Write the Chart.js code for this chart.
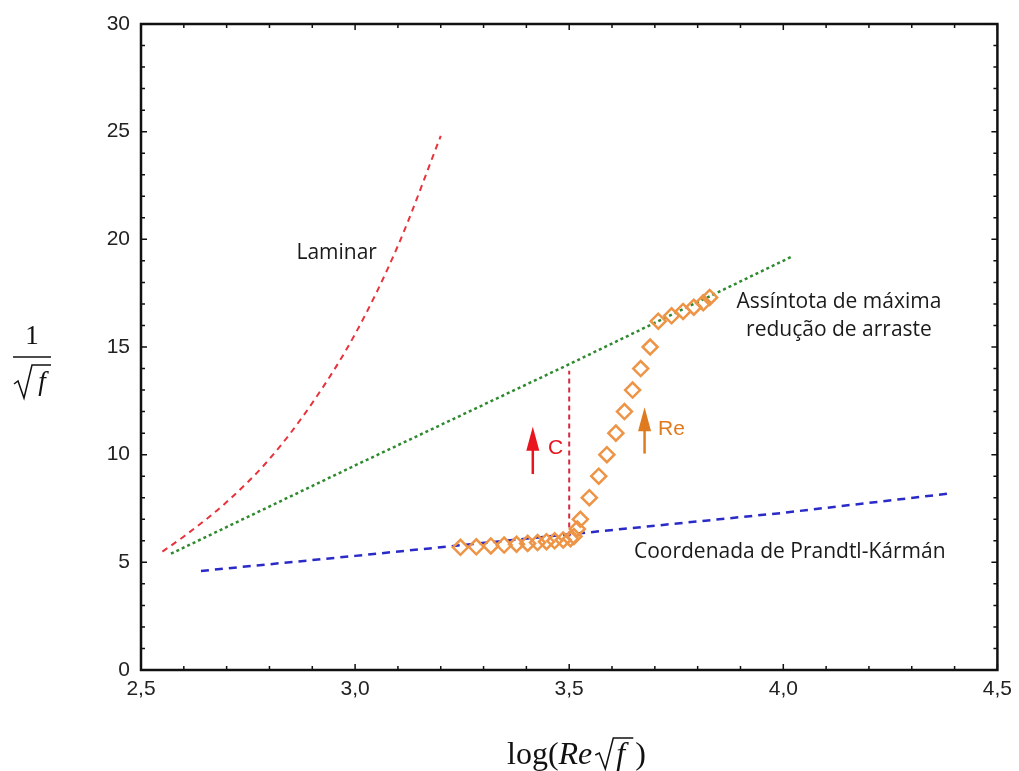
<!DOCTYPE html>
<html>
<head>
<meta charset="utf-8">
<script src="https://cdn.jsdelivr.net/npm/chart.js@4"></script>
<style>
  body { margin: 0; background: #fff; }
  #grafico { display: block; }
</style>
</head>
<body>
<canvas id="grafico" width="1019" height="771"></canvas>
<script>
// Curva laminar
const xLaminar = [2.55, 2.6, 2.7, 2.8, 2.9, 3.0, 3.1, 3.2];
const yLaminar = [5.5, 6.2, 7.8, 9.8, 12.4, 15.6, 19.7, 24.8];

// Assíntota de máxima redução de arraste
const xAssintota = [2.57, 3.0, 3.5, 4.02];
const yAssintota = [5.4, 9.5, 14.2, 19.2];

// Coordenada de Prandtl-Kármán
const xPrandtl = [2.64, 3.0, 3.5, 4.0, 4.39];
const yPrandtl = [4.6, 5.3, 6.3, 7.3, 8.2];

// Linha vertical tracejada (efeito da concentração C)
const xLinhaC = [3.5, 3.5];
const yLinhaC = [6.2, 13.9];

// Pontos experimentais (losangos)
const xDados = [3.246, 3.283, 3.317, 3.348, 3.377, 3.403, 3.426, 3.447, 3.466, 3.486, 3.503, 3.511,
                3.519, 3.526, 3.547, 3.569, 3.588, 3.609, 3.629, 3.648, 3.667, 3.689,
                3.708, 3.739, 3.766, 3.791, 3.813, 3.828];
const yDados = [5.7, 5.72, 5.76, 5.8, 5.84, 5.88, 5.92, 5.96, 6.0, 6.04, 6.1, 6.2,
                6.55, 7.0, 8.0, 9.0, 10.0, 11.0, 12.0, 13.0, 14.0, 15.0,
                16.2, 16.45, 16.65, 16.85, 17.05, 17.3];

// Eixos
const xMin = 2.5, xMax = 4.5, xPasso = 0.5;
const yMin = 0, yMax = 30, yPasso = 5;

// Anotações (setas e textos) em coordenadas de dados
const setas = [
    { x: 3.415, y0: 9.1, y1: 11.3, cor: '#e8141e', texto: 'C', tx: 3.468, ty: 10.3 },
    { x: 3.676, y0: 10.05, y1: 12.2, cor: '#e07a1e', texto: 'Re', tx: 3.739, ty: 11.2 }
];
const rotulos = [
    { linhas: ['Laminar'], x: 2.957, y: 19.37 },
    { linhas: ['Assíntota de máxima', 'redução de arraste'], x: 4.13, y: 17.09 },
    { linhas: ['Coordenada de Prandtl-Kármán'], x: 4.015, y: 5.48 }
];

function pares(xs, ys) {
    return xs.map((x, i) => ({ x: x, y: ys[i] }));
}

const pluginDesenho = {
    id: 'desenho',
    afterDatasetsDraw(chart) {
        const ctx = chart.ctx;
        const a = chart.chartArea;
        const sx = chart.scales.x, sy = chart.scales.y;
        ctx.save();

        // moldura
        ctx.strokeStyle = '#111';
        ctx.lineWidth = 2.5;
        ctx.strokeRect(a.left, a.top, a.right - a.left, a.bottom - a.top);

        // marcas internas
        ctx.lineWidth = 1.5;
        for (let i = 0; i <= Math.round((xMax - xMin) * 10); i++) {
            const v = xMin + i / 10;
            const px = sx.getPixelForValue(v);
            const L = (i % 5 === 0) ? 6 : 4;
            ctx.beginPath();
            ctx.moveTo(px, a.bottom); ctx.lineTo(px, a.bottom - L);
            ctx.moveTo(px, a.top); ctx.lineTo(px, a.top + L);
            ctx.stroke();
        }
        for (let v = yMin; v <= yMax; v++) {
            const py = sy.getPixelForValue(v);
            const L = (v % 5 === 0) ? 6 : 4;
            ctx.beginPath();
            ctx.moveTo(a.left, py); ctx.lineTo(a.left + L, py);
            ctx.moveTo(a.right, py); ctx.lineTo(a.right - L, py);
            ctx.stroke();
        }

        // setas
        setas.forEach(s => {
            const px = sx.getPixelForValue(s.x);
            const pb = sy.getPixelForValue(s.y0);
            const pt = sy.getPixelForValue(s.y1);
            ctx.strokeStyle = s.cor;
            ctx.fillStyle = s.cor;
            ctx.lineWidth = 2.5;
            ctx.beginPath();
            ctx.moveTo(px, pb); ctx.lineTo(px, pt + 20);
            ctx.stroke();
            ctx.beginPath();
            ctx.moveTo(px, pt);
            ctx.lineTo(px - 6.5, pt + 24);
            ctx.lineTo(px + 6.5, pt + 24);
            ctx.closePath();
            ctx.fill();
            ctx.font = '21px "Liberation Sans", Arial, sans-serif';
            ctx.textAlign = 'center';
            ctx.textBaseline = 'middle';
            ctx.fillText(s.texto, sx.getPixelForValue(s.tx), sy.getPixelForValue(s.ty));
        });

        // rótulos das curvas
        ctx.fillStyle = '#1a1a1a';
        ctx.font = '21px "Open Sans", "Noto Sans", sans-serif';
        ctx.textAlign = 'center';
        ctx.textBaseline = 'middle';
        rotulos.forEach(r => {
            const px = sx.getPixelForValue(r.x);
            const py = sy.getPixelForValue(r.y);
            r.linhas.forEach((t, k) => ctx.fillText(t, px, py + k * 28));
        });

        // título do eixo y: 1/sqrt(f)
        ctx.fillStyle = '#111';
        ctx.font = '27px "Liberation Serif", "DejaVu Serif", serif';
        ctx.fillText('1', 32, 337);
        ctx.lineWidth = 1.5;
        ctx.strokeStyle = '#111';
        ctx.beginPath(); ctx.moveTo(13, 357); ctx.lineTo(51, 357); ctx.stroke();
        ctx.beginPath();
        ctx.moveTo(14, 384); ctx.lineTo(18, 381); ctx.lineTo(24, 398); ctx.lineTo(32, 365); ctx.lineTo(51, 365);
        ctx.stroke();
        ctx.font = 'italic 27px "Liberation Serif", "DejaVu Serif", serif';
        ctx.fillText('f', 42, 383);

        // título do eixo x: log(Re sqrt(f))
        ctx.textAlign = 'left';
        ctx.textBaseline = 'alphabetic';
        let x0 = 507;
        const base = 764;
        ctx.font = '32px "Liberation Serif", "DejaVu Serif", serif';
        ctx.fillText('log(', x0, base);
        x0 += ctx.measureText('log(').width;
        ctx.font = 'italic 32px "Liberation Serif", "DejaVu Serif", serif';
        ctx.fillText('Re', x0, base);
        x0 += ctx.measureText('Re').width + 3;
        ctx.beginPath();
        ctx.moveTo(x0, base - 9); ctx.lineTo(x0 + 4, base - 11); ctx.lineTo(x0 + 10, base + 5);
        ctx.lineTo(x0 + 18, base - 26); ctx.lineTo(x0 + 38, base - 26);
        ctx.stroke();
        ctx.fillText('f', x0 + 21, base);
        x0 += 40;
        ctx.font = '32px "Liberation Serif", "DejaVu Serif", serif';
        ctx.fillText(')', x0, base);

        ctx.restore();
    }
};

const ctx = document.getElementById('grafico').getContext('2d');
const grafico = new Chart(ctx, {
    type: 'scatter',
    data: {
        datasets: [
            {
                label: 'Dados',
                data: pares(xDados, yDados),
                showLine: false,
                pointStyle: 'rectRot',
                pointRadius: 7.5,
                pointBorderWidth: 2.5,
                pointBackgroundColor: 'rgba(255,255,255,0)',
                pointBorderColor: '#ee9446'
            },
            {
                label: 'C',
                data: pares(xLinhaC, yLinhaC),
                showLine: true,
                borderColor: '#d8283e',
                borderWidth: 2,
                borderDash: [5, 4],
                pointRadius: 0
            },
            {
                label: 'Laminar',
                data: pares(xLaminar, yLaminar),
                showLine: true,
                cubicInterpolationMode: 'monotone',
                borderColor: '#e8323c',
                borderWidth: 2,
                borderDash: [6, 5],
                pointRadius: 0
            },
            {
                label: 'Assíntota',
                data: pares(xAssintota, yAssintota),
                showLine: true,
                borderColor: '#2f8a2f',
                borderWidth: 2.5,
                borderDash: [3, 3],
                pointRadius: 0
            },
            {
                label: 'Prandtl-Kármán',
                data: pares(xPrandtl, yPrandtl),
                showLine: true,
                borderColor: '#2a2ac8',
                borderWidth: 2.5,
                borderDash: [8, 6],
                pointRadius: 0
            }
        ]
    },
    options: {
        responsive: false,
        animation: false,
        devicePixelRatio: 1,
        layout: { padding: { top: 24, right: 16, left: 0, bottom: 0 } },
        plugins: {
            legend: { display: false },
            tooltip: { enabled: false }
        },
        scales: {
            x: {
                type: 'linear',
                min: xMin,
                max: xMax,
                grid: { display: false, drawTicks: false },
                border: { display: false },
                ticks: {
                    stepSize: xPasso,
                    padding: 7,
                    color: '#222',
                    font: { family: '"Liberation Sans", Arial, sans-serif', size: 21 },
                    callback: v => v.toFixed(1).replace('.', ',')
                },
                afterFit: s => { s.height = 101; }
            },
            y: {
                type: 'linear',
                min: yMin,
                max: yMax,
                grid: { display: false, drawTicks: false },
                border: { display: false },
                ticks: {
                    stepSize: yPasso,
                    padding: 11,
                    color: '#222',
                    font: { family: '"Liberation Sans", Arial, sans-serif', size: 21 },
                    callback: v => String(v)
                },
                afterFit: s => { s.width = 141; }
            }
        }
    },
    plugins: [pluginDesenho]
});
</script>
</body>
</html>
